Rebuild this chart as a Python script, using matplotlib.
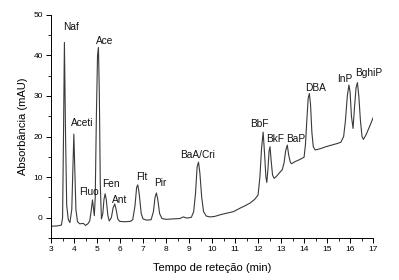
import matplotlib
matplotlib.use("Agg")
import matplotlib.pyplot as plt
from matplotlib.ticker import MultipleLocator

plt.rcParams['font.family'] = ['Liberation Sans', 'DejaVu Sans']

# chromatogram (time in min, absorbance in mAU)
tempo = [3.00, 3.30, 3.45, 3.50, 3.54, 3.58, 3.63, 3.68, 3.75, 3.82,
         3.90, 3.95, 3.99, 4.03, 4.08, 4.15, 4.25, 4.40, 4.50, 4.60,
         4.68, 4.74, 4.80, 4.85, 4.88, 4.92, 4.97, 5.02, 5.06, 5.10,
         5.14, 5.19, 5.25, 5.30, 5.35, 5.40, 5.47, 5.53, 5.62, 5.70,
         5.77, 5.83, 5.90, 5.98, 6.20, 6.45, 6.55, 6.65, 6.72, 6.77,
         6.83, 6.92, 7.00, 7.15, 7.35, 7.45, 7.52, 7.58, 7.64, 7.72,
         7.82, 8.00, 8.30, 8.60, 8.75, 8.90, 9.10, 9.20, 9.28, 9.35,
         9.41, 9.47, 9.55, 9.63, 9.75, 9.90, 10.10, 10.40, 10.70, 10.93,
         11.20, 11.45, 11.65, 11.85, 12.00, 12.08, 12.15, 12.22, 12.28, 12.34,
         12.38, 12.43, 12.48, 12.52, 12.57, 12.63, 12.70, 12.80, 12.95, 13.05,
         13.13, 13.20, 13.27, 13.33, 13.40, 13.46, 13.60, 13.80, 14.00, 14.06,
         14.12, 14.18, 14.23, 14.28, 14.34, 14.40, 14.48, 14.70, 14.95, 15.20,
         15.45, 15.60, 15.72, 15.80, 15.88, 15.95, 16.00, 16.06, 16.13, 16.19,
         16.26, 16.32, 16.38, 16.45, 16.52, 16.58, 16.70, 16.85, 17.00]
absorb = [-2.1, -2.0, -1.8, 0.0, 20.0, 43.2, 20.0, 3.0, -0.5, -1.2,
          2.0, 12.0, 20.6, 12.0, 2.0, -1.0, -1.5, -1.4, -1.9, -1.5,
          -0.8, 1.5, 4.4, 2.0, 0.5, 5.0, 25.0, 40.0, 41.9, 30.0,
          8.0, -0.3, 1.0, 4.5, 5.9, 4.5, 0.5, -0.8, 0.0, 2.5,
          3.4, 2.0, -0.3, -0.9, -1.0, -0.9, -0.5, 3.0, 7.5, 8.1,
          6.0, 1.0, -0.3, -0.6, -0.5, 1.5, 5.0, 6.1, 4.5, 1.0,
          -0.2, -0.4, -0.3, -0.2, 0.2, -0.1, 0.1, 1.5, 6.0, 12.5,
          13.7, 11.0, 5.0, 1.5, 0.4, 0.2, 0.3, 0.8, 1.2, 1.5,
          2.3, 3.0, 3.6, 4.5, 5.6, 10.0, 17.0, 21.1, 16.0, 10.0,
          8.7, 12.0, 16.5, 17.5, 14.0, 10.5, 9.7, 10.2, 11.2, 11.8,
          13.5, 16.5, 17.9, 15.5, 13.7, 13.3, 13.8, 14.3, 14.9, 18.0,
          24.0, 29.5, 30.6, 28.0, 21.0, 17.5, 16.7, 17.0, 17.5, 17.9,
          18.3, 18.6, 20.0, 24.0, 30.0, 32.7, 31.0, 25.0, 22.0, 27.0,
          32.0, 33.3, 30.0, 24.0, 20.0, 19.3, 20.5, 22.5, 24.6]

# peak names and where their labels sit
nomes = ['Naf', 'Aceti', 'Ace', 'Fluo', 'Fen', 'Ant', 'Flt', 'Pir', 'BaA/Cri',
         'BbF', 'BkF', 'BaP', 'DBA', 'InP', 'BghiP']
nome_t = [3.87, 4.37, 5.35, 4.63, 5.59, 5.98, 6.93, 7.76, 9.37,
          12.04, 12.74, 13.63, 14.48, 15.76, 16.83]
nome_v = [46.9, 23.3, 43.6, 6.3, 8.4, 4.4, 10.1, 8.5, 15.4,
          23.0, 19.3, 19.4, 31.9, 34.3, 35.6]

fig = plt.figure(figsize=(3.99, 2.8), dpi=100)
ax = fig.add_axes([0.128, 0.15, 0.807, 0.797])
ax.plot(tempo, absorb, color='#3a3a3a', linewidth=0.8)

for n, t, v in zip(nomes, nome_t, nome_v):
    ax.text(t, v, n, fontsize=7.3, ha='center', va='center', color='#111111')

ax.set_xlim(3, 17)
ax.set_ylim(-5, 50)
ax.xaxis.set_major_locator(MultipleLocator(1))
ax.xaxis.set_minor_locator(MultipleLocator(0.5))
ax.yaxis.set_major_locator(MultipleLocator(10))
ax.yaxis.set_minor_locator(MultipleLocator(5))
ax.tick_params(which='major', direction='out', length=3.5, width=0.7, labelsize=6, pad=2.5)
ax.tick_params(which='minor', direction='out', length=2, width=0.6)
ax.spines['top'].set_visible(False)
ax.spines['right'].set_visible(False)
for s in ['left', 'bottom']:
    ax.spines[s].set_linewidth(0.7)

ax.set_xlabel('Tempo de reteção (min)', fontsize=8, labelpad=7)
ax.set_ylabel('Absorbância (mAU)', fontsize=8, labelpad=4)

fig.savefig('out.png', dpi=100)
